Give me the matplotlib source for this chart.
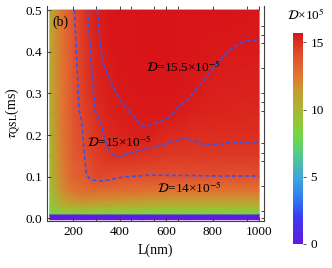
import numpy as np
import matplotlib
matplotlib.use('Agg')
import matplotlib.pyplot as plt
from matplotlib.colors import LinearSegmentedColormap

plt.rcParams['font.family'] = ['Liberation Serif', 'DejaVu Serif']
plt.rcParams['mathtext.fontset'] = 'stix'

# grid of D x 10^5 values
L_nodes = [100, 150, 200, 250, 300, 350, 400, 500, 600, 700, 800, 1000]
tau_nodes = [-0.003, 0.0085, 0.012, 0.02, 0.03, 0.045, 0.065, 0.1, 0.15, 0.2, 0.25, 0.3, 0.4, 0.5]
D_rows = [
    [0.0, 0.0, 0.0, 0.0, 0.0, 0.0, 0.0, 0.0, 0.0, 0.0, 0.0, 0.0],
    [0.2, 0.2, 0.2, 0.2, 0.2, 0.2, 0.2, 0.2, 0.2, 0.2, 0.2, 0.2],
    [8.1, 8.2, 8.3, 8.3, 8.3, 8.3, 8.3, 8.2, 8.2, 8.2, 8.2, 8.2],
    [8.5, 9.2, 9.4, 9.4, 9.3, 9.2, 9.1, 9.0, 8.9, 8.9, 8.9, 8.9],
    [8.8, 10.2, 10.6, 10.7, 10.6, 10.5, 10.4, 10.3, 10.2, 10.2, 10.2, 10.2],
    [9.1, 11.0, 11.7, 11.9, 11.8, 11.7, 11.6, 11.5, 11.4, 11.4, 11.4, 11.4],
    [9.3, 11.7, 12.6, 12.9, 12.9, 12.9, 12.8, 12.7, 12.6, 12.6, 12.6, 12.6],
    [9.6, 12.1, 13.3, 13.6, 14.2, 14.15, 14.02, 13.95, 13.95, 13.95, 13.95, 13.97],
    [9.9, 12.3, 13.5, 14.05, 14.55, 14.85, 15.0, 14.85, 14.7, 14.7, 14.7, 14.7],
    [10.1, 12.4, 13.7, 14.25, 14.8, 15.1, 15.22, 15.44, 15.2, 15.07, 15.06, 15.05],
    [10.3, 12.45, 13.75, 14.45, 14.98, 15.3, 15.4, 15.55, 15.52, 15.35, 15.25, 15.2],
    [10.4, 12.5, 13.8, 14.6, 15.15, 15.4, 15.52, 15.6, 15.6, 15.52, 15.38, 15.3],
    [10.6, 12.55, 13.82, 14.75, 15.3, 15.56, 15.62, 15.68, 15.68, 15.62, 15.56, 15.47],
    [10.7, 12.6, 13.85, 14.85, 15.45, 15.62, 15.68, 15.72, 15.72, 15.7, 15.65, 15.58],
]

# dashed contour lines
c14_L = [206, 216, 226, 237, 247, 256, 268, 280, 329, 415, 531, 700, 850, 1000]
c14_tau = [0.5, 0.38, 0.26, 0.236, 0.164, 0.112, 0.097, 0.092, 0.09, 0.0995, 0.104, 0.103, 0.102, 0.102]
c15_L = [263, 277, 295, 299, 316, 338, 359, 375, 388, 445, 531, 617, 682, 716, 759, 818, 888, 996]
c15_tau = [0.5, 0.38, 0.26, 0.25, 0.236, 0.188, 0.16, 0.15, 0.148, 0.156, 0.17, 0.182, 0.192, 0.188, 0.178, 0.178, 0.183, 0.182]
c155_L = [306, 316, 330, 366, 402, 437, 480, 501, 531, 574, 617, 646, 689, 703, 775, 832, 882, 940, 1000]
c155_tau = [0.5, 0.42, 0.372, 0.324, 0.284, 0.26, 0.232, 0.222, 0.224, 0.232, 0.244, 0.264, 0.284, 0.292, 0.34, 0.38, 0.408, 0.428, 0.426]

cbar_ticks = [0, 5, 10, 15]
x_major = [200, 400, 600, 800, 1000]
x_minor = [300, 450, 550, 650, 950]
y_major = [0.0, 0.1, 0.2, 0.3, 0.4, 0.5]
y_right = [0.0, 0.018, 0.078, 0.138, 0.157, 0.181, 0.258, 0.279, 0.30, 0.361, 0.421, 0.44, 0.462]

cmap = LinearSegmentedColormap.from_list('d', [
    (0.0, '#6418e0'), (2.0 / 15.7, '#3a3cf0'), (3.5 / 15.7, '#3080f0'),
    (5.0 / 15.7, '#40a8d8'), (6.5 / 15.7, '#50c890'), (8.0 / 15.7, '#70d848'),
    (9.0 / 15.7, '#90c838'), (10.0 / 15.7, '#a8b830'), (11.5 / 15.7, '#c89830'),
    (12.5 / 15.7, '#e07830'), (14.0 / 15.7, '#e05030'), (15.0 / 15.7, '#dc3020'),
    (1.0, '#d81418')])

fig = plt.figure(figsize=(3.32, 2.68), dpi=100)
ax = fig.add_axes([0.1416, 0.1754, 0.6536, 0.802])

LL, TT = np.meshgrid(L_nodes, tau_nodes)
mesh = ax.pcolormesh(LL, TT, np.array(D_rows), cmap=cmap, vmin=0, vmax=15.7,
                     shading='gouraud', rasterized=True)

dash = dict(color='#3355ee', lw=1.2, ls=(0, (2.4, 1.6)))
ax.plot(c14_L, c14_tau, **dash)
ax.plot(c15_L, c15_tau, **dash)
ax.plot(c155_L, c155_tau, **dash)

tfs = 9.5
ax.text(110, 0.462, '(b)', fontsize=10)
ax.text(512, 0.352, r'$\mathcal{D}$=15.5×10$^{-5}$', fontsize=tfs)
ax.text(262, 0.172, r'$\mathcal{D}$=15×10$^{-5}$', fontsize=tfs)
ax.text(560, 0.060, r'$\mathcal{D}$=14×10$^{-5}$', fontsize=tfs)

ax.set_xlim(88, 1021)
ax.set_ylim(-0.006, 0.5096)
ax.set_xticks(x_major)
ax.set_xticks(x_minor, minor=True)
ax.set_yticks(y_major)
ax.set_yticklabels(['0.0', '0.1', '0.2', '0.3', '0.4', '0.5'])
ax.tick_params(which='both', direction='in', top=True, right=False, labelsize=9.5,
               color='#404040', width=0.7)
ax.tick_params(which='major', length=3)
ax.tick_params(which='minor', length=2)
ax.spines['top'].set_visible(False)
for s in ['left', 'right', 'bottom']:
    ax.spines[s].set_color('#404040')
    ax.spines[s].set_linewidth(0.8)

ax2 = ax.twinx()
ax2.set_ylim(ax.get_ylim())
ax2.set_yticks(y_right)
ax2.set_yticklabels([])
ax2.tick_params(direction='in', length=2, color='#404040', width=0.7)
for s in ax2.spines.values():
    s.set_visible(False)

ax.set_xlabel('L(nm)', fontsize=10, labelpad=4)
ax.set_ylabel(r'$\tau_{\rm QSL}$(ms)', fontsize=10, labelpad=2)

cax = fig.add_axes([0.8825, 0.0896, 0.0302, 0.7874])
cb = fig.colorbar(mesh, cax=cax, ticks=cbar_ticks)
cb.outline.set_visible(False)
cb.ax.tick_params(labelsize=9.5, length=2, width=0.6, color='#404040')
fig.text(0.92, 0.925, r'$\mathcal{D}$×10$^5$', fontsize=9.5, ha='center')

fig.savefig('out.png', dpi=100)
